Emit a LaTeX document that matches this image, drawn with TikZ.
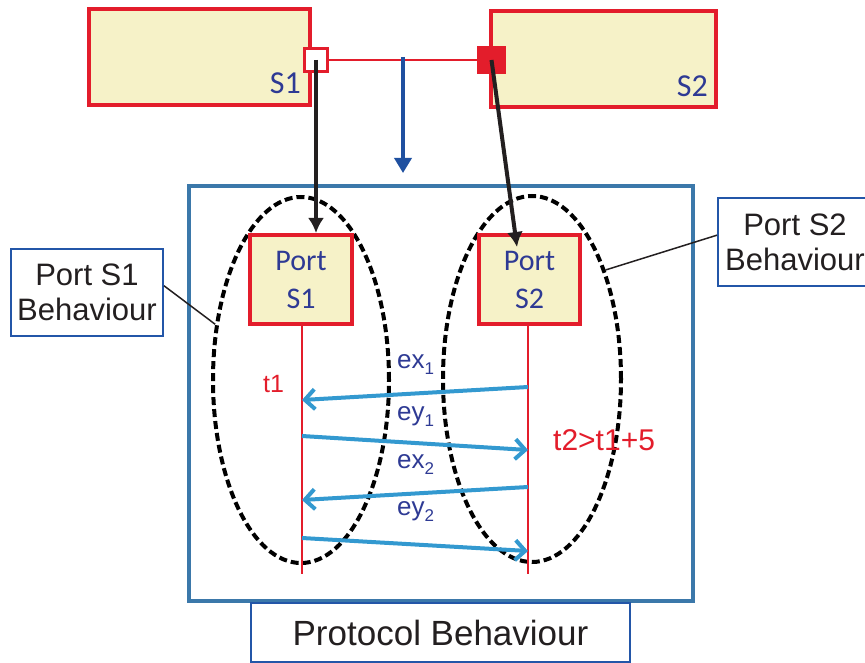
\documentclass[tikz,border=0pt]{standalone}
\usepackage{fontspec}
\setmainfont{Liberation Sans}
\newfontfamily\calfont{Carlito}
\usetikzlibrary{arrows.meta,shapes.geometric,calc}
\definecolor{sred}{HTML}{E31D2B}
\definecolor{syel}{HTML}{F6F2C8}
\definecolor{dblue}{HTML}{2E3A94}
\definecolor{arrowblue}{HTML}{1F50A0}
\definecolor{boxblue}{HTML}{3B78AA}
\definecolor{skyblue}{HTML}{3399D0}
\definecolor{cblue}{HTML}{2356A8}
\definecolor{txtblack}{HTML}{231F20}
\newcommand\lblsub[1]{\raisebox{-6pt}{\fontsize{17}{17}\selectfont #1}}
\begin{document}
\begin{tikzpicture}[x=1pt,y=-1pt,
  sysbox/.style={rectangle,draw=sred,line width=4pt,fill=syel,inner sep=0pt},
  callout/.style={rectangle,draw=cblue,line width=2pt,fill=white,align=center,inner sep=0pt,text=txtblack},
  dashell/.style={ellipse,draw=black,line width=4pt,dash pattern=on 8pt off 4pt,inner sep=0pt,minimum height=366pt},
  blk/.style={draw=txtblack,line width=4pt,-{Latex[length=15pt,width=16pt]}},
  msg/.style={draw=skyblue,line width=4pt,-{Straight Barb[length=10pt,width=20pt]}},
  lbl/.style={inner sep=0pt,text=dblue,font=\fontsize{26}{26}\selectfont,anchor=base west},
  tlbl/.style={inner sep=0pt,text=sred,anchor=base west},
  lifeline/.style={draw=sred,line width=1.5pt}]
\useasboundingbox (0,0) rectangle (865,663);

% top components
\node[sysbox,minimum width=221pt,minimum height=96pt] (s1) at (199.5,57) {};
\node[sysbox,minimum width=225pt,minimum height=96pt] (s2) at (603.5,59) {};
\node[inner sep=0pt,anchor=base east,text=dblue,font=\calfont\fontsize{32}{32}\selectfont] (s1l) at (301,94) {S1};
\node[inner sep=0pt,anchor=base east,text=dblue,font=\calfont\fontsize{32}{32}\selectfont] (s2l) at (708,97) {S2};
\node[rectangle,draw=sred,line width=3pt,fill=white,minimum size=23pt,inner sep=0pt] (p1) at (316,60) {};
\node[rectangle,fill=sred,minimum width=29pt,minimum height=28pt,inner sep=0pt] (p2) at (491.5,60) {};
\draw[sred,line width=2pt] (p1.east) -- (p2.west);

% projection arrow
\coordinate (bt) at (403,57);
\coordinate (bb) at (403,173);
\draw[arrowblue,line width=3.5pt,-{Triangle[length=15pt,width=17pt]}] (bt) -- (bb);

% protocol box
\node[rectangle,draw=boxblue,line width=4pt,minimum width=504pt,minimum height=415pt,inner sep=0pt] (pb) at (441,393.5) {};

% behaviour ellipses
\node[dashell,minimum width=176pt] (e1) at (301,380) {};
\node[dashell,minimum width=178pt] (e2) at (532,379) {};

% port boxes
\node[sysbox,minimum width=102pt,minimum height=89pt,align=center,text=dblue,font=\calfont\fontsize{30}{38}\selectfont] (ps1) at (301,279.5) {Port\\S1};
\node[sysbox,minimum width=101pt,minimum height=89pt,align=center,text=dblue,font=\calfont\fontsize{30}{38}\selectfont] (ps2) at (529.5,279.5) {Port\\S2};

% lifelines
\coordinate (l1t) at (302,324);
\coordinate (l1b) at (302,574);
\coordinate (l2t) at (528,324);
\coordinate (l2b) at (528,574);
\draw[lifeline] (l1t) -- (l1b);
\draw[lifeline] (l2t) -- (l2b);

% messages
\coordinate (m1s) at (528,387);
\coordinate (m1e) at (302,400);
\coordinate (m2s) at (302,436);
\coordinate (m2e) at (528,450);
\coordinate (m3s) at (528,487);
\coordinate (m3e) at (302,500);
\coordinate (m4s) at (302,538);
\coordinate (m4e) at (528,551);
\draw[msg] (m1s) -- (m1e);
\draw[msg] (m2s) -- (m2e);
\draw[msg] (m3s) -- (m3e);
\draw[msg] (m4s) -- (m4e);

\node[lbl] (lx1) at (397,368) {ex\lblsub{1}};
\node[lbl] (ly1) at (397,420) {ey\lblsub{1}};
\node[lbl] (lx2) at (397,468) {ex\lblsub{2}};
\node[lbl] (ly2) at (397,515) {ey\lblsub{2}};

\node[tlbl,font=\fontsize{25}{25}\selectfont] (t1) at (263,392) {t1};
\node[tlbl,font=\fontsize{30}{30}\selectfont] (t2) at (553,450) {t2>t1+5};

% callouts
\node[callout,minimum width=152pt,minimum height=87pt,font=\fontsize{31}{35}\selectfont] (c1) at (87,292.5) {Port S1\\Behaviour};
\node[callout,minimum width=154pt,minimum height=88pt,font=\fontsize{31}{35}\selectfont] (c2) at (795,242) {Port S2\\Behaviour};
\draw[txtblack,line width=1.5pt] (c1.5) -- (e1.147);
\draw[txtblack,line width=1.5pt] (c2.175) -- (e2.56);
\node[callout,minimum width=379pt,minimum height=59pt,font=\fontsize{35}{35}\selectfont] (pbl) at (440.5,632.5) {Protocol Behaviour};

% refinement arrows
\coordinate (a2) at (517,247);
\draw[blk] (p1.center) -- (p1.center |- ps1.north);
\draw[blk] (p2.center) -- (a2);
\end{tikzpicture}
\end{document}
